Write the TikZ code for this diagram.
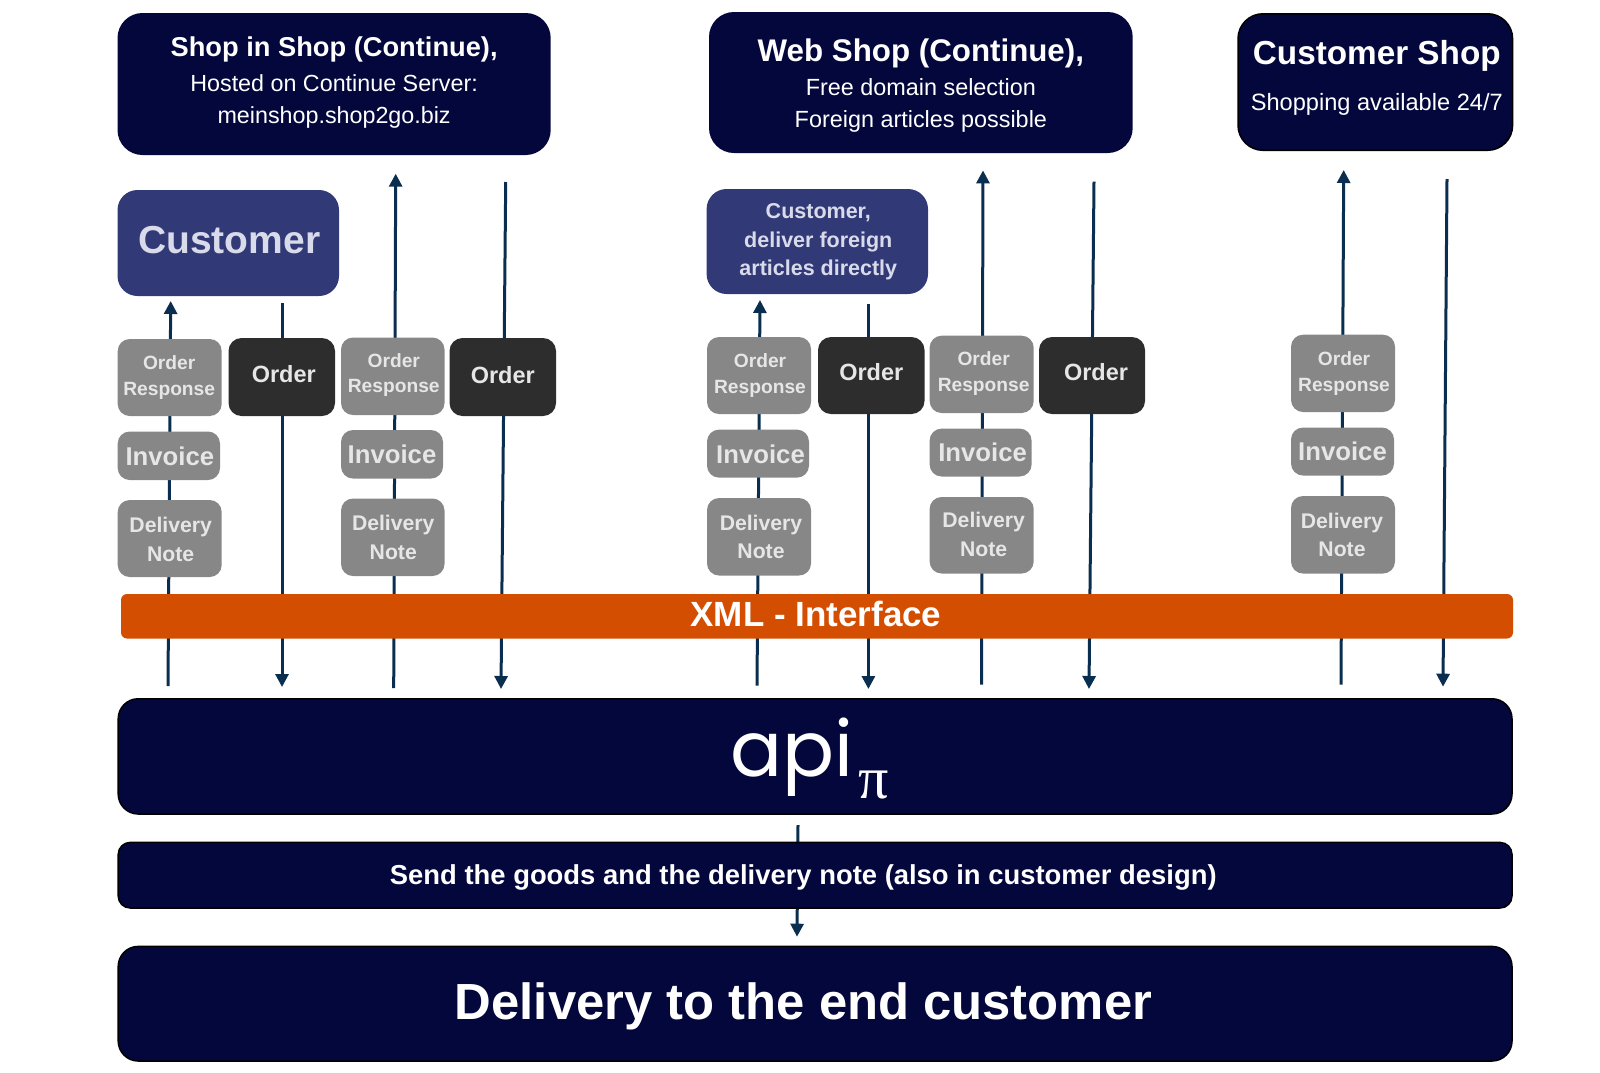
\documentclass[tikz,border=0pt]{standalone}
\usepackage{fontspec}
\setmainfont{Liberation Sans}
\newfontfamily\apifont{Poppins}
\newfontfamily\pifont{Liberation Serif}
\usetikzlibrary{arrows.meta}
\definecolor{navy}{HTML}{03073C}
\definecolor{royal}{HTML}{313A76}
\definecolor{greybox}{HTML}{878787}
\definecolor{darkbox}{HTML}{2D2D2D}
\definecolor{softtext}{HTML}{E6E6E6}
\definecolor{palelilac}{HTML}{D9DBEA}
\definecolor{xmlorange}{HTML}{D34E00}
\definecolor{wire}{HTML}{0A2E4F}
\newcommand{\fs}[1]{\fontsize{#1}{#1}\selectfont}
\newcommand{\shifted}[3]{\raisebox{#2pt}[0pt][0pt]{\makebox[0pt][c]{\hspace*{#1pt}\hspace*{#1pt}#3}}}
\newcommand{\stack}[3]{{\fontsize{#1}{#2}\selectfont\begin{tabular}[c]{@{}c@{}}#3\end{tabular}}}
% \bx{name}{style}{x1}{y1}{x2}{y2}{dx}{dy}{text}
\newcommand{\bx}[9]{%
  \pgfmathsetmacro\bxc{(#3+#5)/2}\pgfmathsetmacro\byc{(#4+#6)/2}%
  \pgfmathsetmacro\bw{#5-#3}\pgfmathsetmacro\bh{#6-#4}%
  \node[#2,minimum width=\bw pt,minimum height=\bh pt] (#1) at (\bxc,\byc) {\shifted{#7}{#8}{#9}};}
\tikzset{
  base/.style={rectangle,inner sep=0pt,outer sep=0pt},
  shopbox/.style={base,fill=navy,rounded corners=25pt,text=white},
  shopedged/.style={shopbox,draw=black,line width=1.5pt},
  wide/.style={base,fill=navy,draw=black,line width=1.5pt,rounded corners=20pt,text=white},
  widelow/.style={base,fill=navy,draw=black,line width=1.5pt,rounded corners=12pt,text=white},
  custbox/.style={base,fill=royal,rounded corners=20pt,text=palelilac,font=\bfseries},
  docbox/.style={base,fill=greybox,rounded corners=12pt,text=softtext,font=\bfseries},
  orderbox/.style={base,fill=darkbox,rounded corners=13pt,text=softtext,font=\bfseries},
  xmlbar/.style={base,fill=xmlorange,rounded corners=6pt,text=white,font=\bfseries},
  wireline/.style={draw=wire,line width=3pt},
  wiretip/.style={wireline,-{Triangle[length=13pt,width=13pt]}},
}
\newcommand{\orderresp}{\stack{19.2}{25.5}{Order\\Response}}
\newcommand{\invoice}{\fs{25.7}Invoice}
\newcommand{\delnote}{\stack{21.2}{28.5}{Delivery\\Note}}
\newcommand{\ordertxt}{\fs{23.5}Order}
\begin{document}
\begin{tikzpicture}[x=1pt,y=-1pt]
\useasboundingbox (0,0) rectangle (1600,1072);
% connector ends
\coordinate (a1b) at (168,686);   \coordinate (a1t) at (170.7,301);
\coordinate (a2t) at (282,303);   \coordinate (a2b) at (282,687);
\coordinate (a3b) at (393.7,688); \coordinate (a3t) at (395.7,173.7);
\coordinate (a4t) at (505.7,182); \coordinate (a4b) at (501,689);
\coordinate (a5b) at (757,685.7); \coordinate (a5t) at (760,300);
\coordinate (a6t) at (868.4,304); \coordinate (a6b) at (868.4,689);
\coordinate (a7b) at (981.6,684.7); \coordinate (a7t) at (983,170.4);
\coordinate (a8t) at (1094,181.6); \coordinate (a8b) at (1089,689);
\coordinate (a9b) at (1341,684.7); \coordinate (a9t) at (1343.7,170);
\coordinate (a10t) at (1447,179); \coordinate (a10b) at (1443,686.7);
\coordinate (m1) at (798,825);    \coordinate (m2) at (797,936.7);
\draw[wiretip] (a1b) -- (a1t);
\draw[wiretip] (a2t) -- (a2b);
\draw[wiretip] (a3b) -- (a3t);
\draw[wiretip] (a4t) -- (a4b);
\draw[wiretip] (a5b) -- (a5t);
\draw[wiretip] (a6t) -- (a6b);
\draw[wiretip] (a7b) -- (a7t);
\draw[wiretip] (a8t) -- (a8b);
\draw[wiretip] (a9b) -- (a9t);
\draw[wiretip] (a10t) -- (a10b);
\draw[wiretip] (m1) -- (m2);
% shops
\bx{shopA}{shopbox}{117.5}{13}{550.7}{155}{0}{-6}{\stack{23.3}{32}{{\fs{27.25}\bfseries Shop in Shop (Continue),}\\[3pt]Hosted on Continue Server:\\meinshop.shop2go.biz}}
\bx{shopB}{shopbox}{709}{12}{1132.7}{153}{0}{-12}{\stack{23.4}{32}{{\fs{31.3}\bfseries Web Shop (Continue),}\\[2pt]Free domain selection\\Foreign articles possible}}
\bx{shopC}{shopedged}{1238}{13.75}{1512.6}{150.3}{1.5}{-2.5}{\stack{23.6}{46}{{\fs{33.3}\bfseries Customer Shop}\\Shopping available 24/7}}
\bx{custA}{custbox}{117.5}{190}{339}{296}{1}{-10}{\fs{39}Customer}
\bx{custB}{custbox}{706.6}{189}{928}{294}{1}{-5}{\stack{21.5}{28.5}{Customer,\\deliver foreign\\articles directly}}
% documents group 1
\bx{or1}{docbox}{117.7}{339}{221.7}{416}{-0.5}{-5}{\orderresp}
\bx{ord1}{orderbox}{228.5}{338}{335}{416}{2}{-5}{\ordertxt}
\bx{or2}{docbox}{341}{337.5}{444.5}{415}{1}{-4}{\orderresp}
\bx{ord2}{orderbox}{449.5}{338}{556}{416}{0}{-6}{\ordertxt}
\bx{inv1}{docbox}{117.7}{431.5}{220}{480}{1}{-10}{\invoice}
\bx{inv2}{docbox}{341}{430}{443}{478.5}{0}{-9}{\invoice}
\bx{dn1}{docbox}{117.7}{500}{221.7}{577}{1}{-8}{\delnote}
\bx{dn2}{docbox}{341}{498.5}{444.5}{576}{0.5}{-7}{\delnote}
% documents group 2
\bx{or3}{docbox}{707}{337}{811}{414}{1}{-5}{\orderresp}
\bx{ord3}{orderbox}{818}{337}{924.5}{414}{0}{-5}{\ordertxt}
\bx{or4}{docbox}{929.6}{335.7}{1033.7}{413}{2}{-4}{\orderresp}
\bx{ord4}{orderbox}{1039}{337}{1145}{414}{4}{-5}{\ordertxt}
\bx{inv3}{docbox}{707}{429.6}{809}{477.6}{2.5}{-10}{\invoice}
\bx{inv4}{docbox}{929.6}{428.6}{1031.6}{476.5}{2}{-9}{\invoice}
\bx{dn3}{docbox}{707}{498}{811}{575.5}{2}{-7}{\delnote}
\bx{dn4}{docbox}{929.6}{497}{1033.7}{573.5}{2}{-6}{\delnote}
% documents group 3
\bx{or5}{docbox}{1291}{334.7}{1395}{412}{1}{-5}{\orderresp}
\bx{inv5}{docbox}{1291}{427.5}{1394}{475.5}{0}{-9}{\invoice}
\bx{dn5}{docbox}{1291}{496}{1395}{573.5}{-1}{-7}{\delnote}
% bars
\bx{xml}{xmlbar}{121}{594}{1513}{638.5}{-1}{-10}{\fs{35}XML - Interface}
\bx{api}{wide}{118.2}{698.75}{1512}{814}{-5.5}{-20.5}{{\fontsize{77}{77}\apifont api}\kern5pt\raisebox{-21.5pt}{\fontsize{60}{60}\pifont π}}
\bx{send}{widelow}{118.2}{842.4}{1512}{908}{-11.8}{-9}{\fs{27.4}\bfseries Send the goods and the delivery note (also in customer design)}
\bx{deliv}{wide}{118.2}{946.4}{1512}{1061}{-11.6}{-16}{\fs{50.8}\bfseries Delivery to the end customer}
\end{tikzpicture}
\end{document}
